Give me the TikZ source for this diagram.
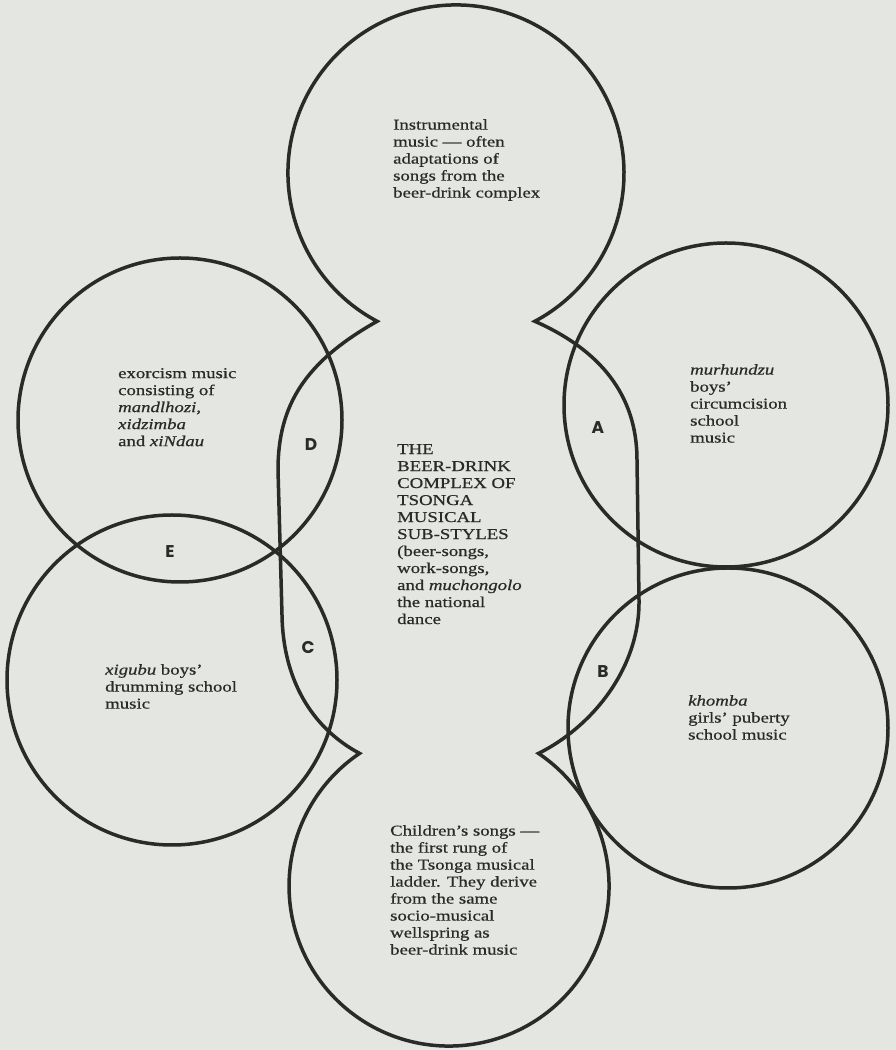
\documentclass[tikz,border=0pt]{standalone}
\usepackage{fontspec}
\setmainfont{Liberation Serif}[FakeStretch=1.25,FakeBold=0.6]
\newfontfamily\letterfont{Poppins}
\definecolor{paper}{RGB}{228,230,226}
\definecolor{ink}{RGB}{42,42,40}
\begin{document}
\begin{tikzpicture}[x=1pt,y=1pt,
  ring/.style={draw=ink,line width=3.5pt},
  txt/.style={anchor=north west,inner sep=0pt,align=left,text=ink,font=\fontsize{15}{17}\selectfont},
  lbl/.style={inner sep=0pt,text=ink,font=\letterfont\bfseries\fontsize{17}{17}\selectfont}]
\fill[paper] (0,0) rectangle (896,1050);
\useasboundingbox (0,0) rectangle (896,1050);
% central shape
\coordinate (L1) at (377.1,728.7);
\coordinate (R1) at (534.9,728.7);
\coordinate (R2) at (538.5,296.6);
\coordinate (L2) at (359.5,296.6);
\draw[ring,line join=miter] (L1) arc[start angle=242,end angle=-62,radius=168]
  .. controls (600,700) and (637,655) .. (637,590) -- (639,450)
  .. controls (640,380) and (590,322) .. (R2)
  arc[start angle=56,end angle=-236,radius=160]
  .. controls (312,322) and (283,370) .. (282,435) -- (278,580)
  .. controls (278,645) and (305,688) .. (L1) -- cycle;
% side circles
\coordinate (TL) at (180,630);
\coordinate (BL) at (172,370);
\coordinate (TR) at (726,645);
\coordinate (BR) at (728,322);
\draw[ring] (TL) circle[radius=162];
\draw[ring] (BL) circle[radius=165];
\draw[ring] (TR) circle[radius=162];
\draw[ring] (BR) circle[radius=160];
% letters
\node[lbl] (A) at (598,622) {A};
\node[lbl] (B) at (603,378) {B};
\node[lbl] (C) at (308,402) {C};
\node[lbl] (D) at (311,605) {D};
\node[lbl] (E) at (170,498) {E};
% texts
\node[txt] (top) at (393,931) {Instrumental\\music — often\\adaptations of\\songs from the\\beer-drink complex};
\node[txt] (mid) at (397,606) {THE\\BEER-DRINK\\COMPLEX OF\\TSONGA\\MUSICAL\\SUB-STYLES\\(beer-songs,\\work-songs,\\and \textit{muchongolo}\\the national\\dance};
\node[txt] (bot) at (390,225) {Children’s songs —\\the first rung of\\the Tsonga musical\\ladder. They derive\\from the same\\socio-musical\\wellspring as\\beer-drink music};
\node[txt] (exo) at (118,682) {exorcism music\\consisting of\\\textit{mandlhozi,}\\\textit{xidzimba}\\and \textit{xiNdau}};
\node[txt] (mur) at (690,686) {\textit{murhundzu}\\boys’\\circumcision\\school\\music};
\node[txt] (kho) at (688,355) {\textit{khomba}\\girls’ puberty\\school music};
\node[txt] (xig) at (105,386) {\textit{xigubu} boys’\\drumming school\\music};
\end{tikzpicture}
\end{document}
